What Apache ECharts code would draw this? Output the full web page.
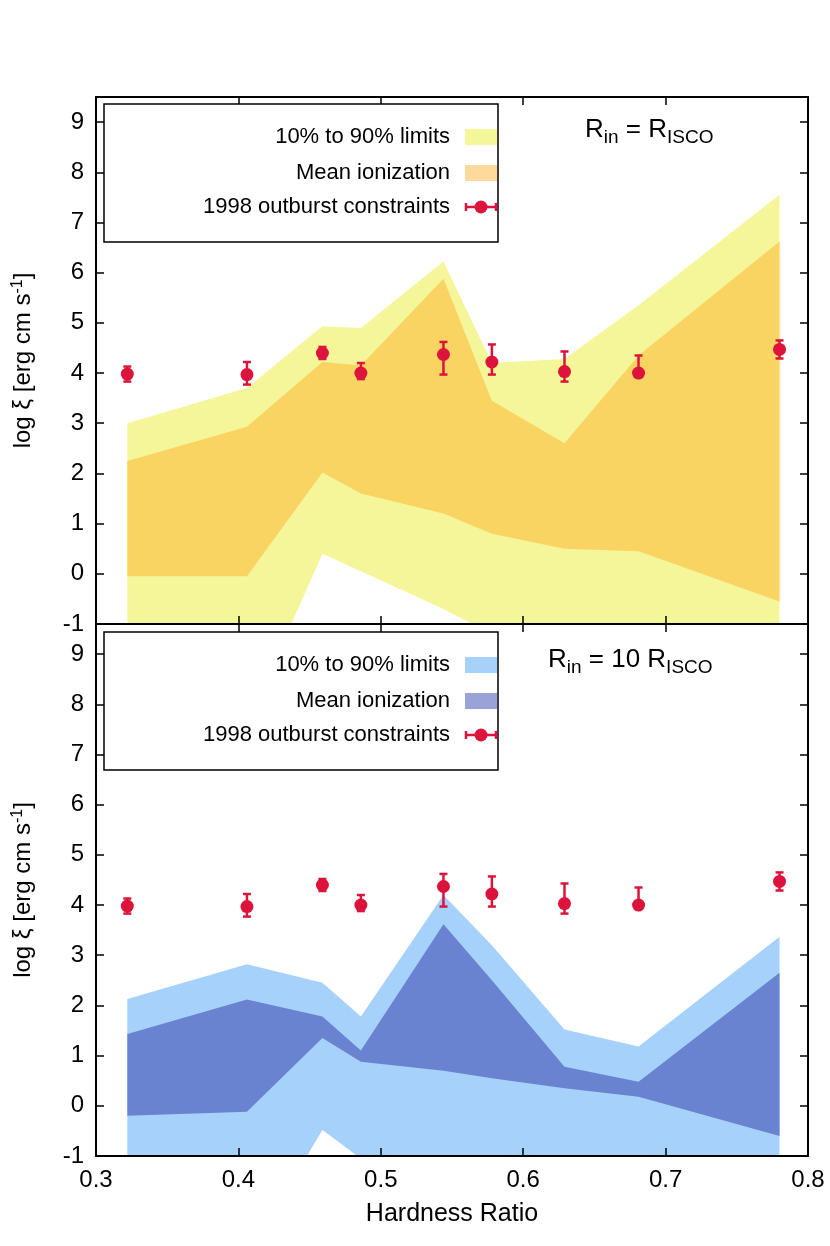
<!DOCTYPE html>
<html><head><meta charset="utf-8">
<script src="https://cdn.jsdelivr.net/npm/echarts@6/dist/echarts.min.js"></script>
<style>html,body{margin:0;padding:0;background:#fff}#c{width:830px;height:1246px}</style>
</head><body><div id="c"></div>
<script>
const hardness = [0.322, 0.406, 0.459, 0.486, 0.544, 0.578, 0.629, 0.681, 0.780];
const obsXi   = [3.98, 3.97, 4.40, 4.00, 4.37, 4.22, 4.03, 4.00, 4.47];
const obsLo   = [3.83, 3.77, 4.28, 3.88, 3.97, 3.97, 3.83, 4.00, 4.29];
const obsHi   = [4.13, 4.22, 4.52, 4.20, 4.62, 4.57, 4.43, 4.35, 4.65];
// Top panel: R_in = R_ISCO
const topLimUpper  = [3.00, 3.70, 4.93, 4.90, 6.22, 4.20, 4.28, 5.35, 7.55];
const topLimLower  = [-3.0, -3.0, 0.40, 0.05, -0.70, -1.20, -3.0, -3.0, -3.0];
const topMeanUpper = [2.25, 2.93, 4.22, 4.15, 5.88, 3.45, 2.60, 4.35, 6.62];
const topMeanLower = [-0.05, -0.05, 2.02, 1.60, 1.20, 0.80, 0.50, 0.45, -0.55];
// Bottom panel: R_in = 10 R_ISCO
const botLimUpper  = [2.13, 2.82, 2.45, 1.78, 4.20, 3.20, 1.52, 1.18, 3.37];
const botLimLower  = [-3.0, -3.0, -0.48, -1.05, -3.0, -3.0, -3.0, -3.0, -3.0];
const botMeanUpper = [1.43, 2.12, 1.78, 1.10, 3.62, 2.50, 0.78, 0.48, 2.65];
const botMeanLower = [-0.20, -0.12, 1.35, 0.88, 0.70, 0.55, 0.35, 0.18, -0.60];

const FONT = 'Liberation Sans';
const chart = echarts.init(document.getElementById('c'));

function band(upper, lower, color, gi) {
  return {
    type: 'custom', xAxisIndex: gi*2, yAxisIndex: gi*2, clip: true, z: 2,
    data: [0], silent: true,
    renderItem: function (params, api) {
      const pts = [];
      for (let i = 0; i < hardness.length; i++) pts.push(api.coord([hardness[i], upper[i]]));
      for (let i = hardness.length - 1; i >= 0; i--) pts.push(api.coord([hardness[i], lower[i]]));
      return { type: 'polygon', shape: { points: pts }, style: { fill: color } };
    }
  };
}
function errBars(gi) {
  return {
    type: 'custom', xAxisIndex: gi*2, yAxisIndex: gi*2, z: 5, silent: true,
    data: hardness.map((h, i) => [h, obsLo[i], obsHi[i]]),
    renderItem: function (params, api) {
      const a = api.coord([api.value(0), api.value(1)]);
      const b = api.coord([api.value(0), api.value(2)]);
      const st = { stroke: '#dc143c', lineWidth: 2.5 };
      return { type: 'group', children: [
        { type: 'line', shape: { x1: a[0], y1: a[1], x2: b[0], y2: b[1] }, style: st },
        { type: 'line', shape: { x1: a[0]-4, y1: a[1], x2: a[0]+4, y2: a[1] }, style: st },
        { type: 'line', shape: { x1: b[0]-4, y1: b[1], x2: b[0]+4, y2: b[1] }, style: st }
      ]};
    }
  };
}
function points(gi) {
  return { type: 'scatter', xAxisIndex: gi*2, yAxisIndex: gi*2, z: 6, symbolSize: 13,
    itemStyle: { color: '#dc143c', opacity: 1 }, data: hardness.map((h, i) => [h, obsXi[i]]) };
}

const grids = [
  { left: 96, right: 22, top: 97, height: 527 },
  { left: 96, right: 22, top: 624, height: 532 }
];
const yMax = [9.5, 9.6];
const xAxes = [], yAxes = [];
for (let g = 0; g < 2; g++) {
  const base = { type: 'value', min: 0.3, max: 0.8, interval: 0.1, gridIndex: g, z: 8,
    axisLine: { show: true, onZero: false, lineStyle: { color: '#000', width: 2 } },
    axisTick: { inside: true, length: 8, lineStyle: { color: '#000', width: 1.5 } },
    splitLine: { show: false } };
  xAxes.push(Object.assign({}, base, { position: 'bottom',
    axisLabel: { show: g === 1, color: '#000', fontSize: 24, fontFamily: FONT, margin: 12,
      formatter: v => (Math.round(v*10)/10).toFixed(1) },
    name: g === 1 ? 'Hardness Ratio' : '', nameLocation: 'middle', nameGap: 46,
    nameTextStyle: { color: '#000', fontSize: 25, fontFamily: FONT } }));
  xAxes.push(Object.assign({}, base, { position: 'top', axisLabel: { show: false } }));
  const ybase = { type: 'value', min: -1, max: yMax[g], interval: 1, gridIndex: g, z: 8,
    axisLine: { show: true, onZero: false, lineStyle: { color: '#000', width: 2 } },
    axisTick: { inside: true, length: 8, lineStyle: { color: '#000', width: 1.5 } },
    splitLine: { show: false } };
  yAxes.push(Object.assign({}, ybase, { position: 'left',
    axisLabel: { color: '#000', fontSize: 24, fontFamily: FONT, margin: 12,
      formatter: v => (Number.isInteger(v) && v <= 9) ? String(v) : '' },
    name: '{a|log ξ [erg cm s}{s|-1}{a|]}', nameLocation: 'middle', nameGap: 60, nameRotate: 90,
    nameTextStyle: { rich: { a: { fontSize: 24, fontFamily: FONT, color: '#000' },
      s: { fontSize: 16, fontFamily: FONT, color: '#000', verticalAlign: 'top', padding: [0,0,10,0] } } } }));
  yAxes.push(Object.assign({}, ybase, { position: 'right', axisLabel: { show: false } }));
}

function legendGraphics(top, c1, c2) {
  const rows = [top + 33, top + 69, top + 103];
  const labels = ['10% to 90% limits', 'Mean ionization', '1998 outburst constraints'];
  const els = [{ type: 'rect', shape: { x: 104, y: top, width: 394, height: 138 },
    style: { fill: '#fff', stroke: '#000', lineWidth: 1.5 }, z: 10 }];
  labels.forEach((t, i) => els.push({ type: 'text', x: 450, y: rows[i], z: 11,
    style: { text: t, fill: '#000', font: '22px ' + FONT, textAlign: 'right', textVerticalAlign: 'middle' } }));
  els.push({ type: 'rect', shape: { x: 465, y: rows[0]-8, width: 32, height: 16 }, style: { fill: c1 }, z: 11 });
  els.push({ type: 'rect', shape: { x: 465, y: rows[1]-8, width: 32, height: 16 }, style: { fill: c2 }, z: 11 });
  els.push({ type: 'line', shape: { x1: 466, y1: rows[2], x2: 496, y2: rows[2] }, style: { stroke: '#dc143c', lineWidth: 2.5 }, z: 11 });
  els.push({ type: 'line', shape: { x1: 466, y1: rows[2]-4, x2: 466, y2: rows[2]+4 }, style: { stroke: '#dc143c', lineWidth: 2.5 }, z: 11 });
  els.push({ type: 'line', shape: { x1: 496, y1: rows[2]-4, x2: 496, y2: rows[2]+4 }, style: { stroke: '#dc143c', lineWidth: 2.5 }, z: 11 });
  els.push({ type: 'circle', shape: { cx: 481, cy: rows[2], r: 6.5 }, style: { fill: '#dc143c' }, z: 11 });
  return els;
}
const rich = { a: { fontSize: 26, fontFamily: FONT, color: '#000' }, s: { fontSize: 19, fontFamily: FONT, color: '#000', padding: [16,0,0,0] } };
const graphics = legendGraphics(104, '#f5f599', '#fdd99b')
  .concat(legendGraphics(632, '#a6d1fb', '#9aa3d8'))
  .concat([
    { type: 'text', x: 585, y: 130, z: 11, style: { text: '{a|R}{s|in}{a| = R}{s|ISCO}', rich: rich, textVerticalAlign: 'middle' } },
    { type: 'text', x: 548, y: 660, z: 11, style: { text: '{a|R}{s|in}{a| = 10 R}{s|ISCO}', rich: rich, textVerticalAlign: 'middle' } }
  ]);

chart.setOption({
  animation: false,
  grid: grids, xAxis: xAxes, yAxis: yAxes,
  series: [
    band(topLimUpper, topLimLower, '#f5f599', 0),
    band(topMeanUpper, topMeanLower, '#fad463', 0),
    errBars(0), points(0),
    band(botLimUpper, botLimLower, '#a6d1fb', 1),
    band(botMeanUpper, botMeanLower, '#6a83d0', 1),
    errBars(1), points(1)
  ],
  graphic: graphics
});
</script></body></html>
